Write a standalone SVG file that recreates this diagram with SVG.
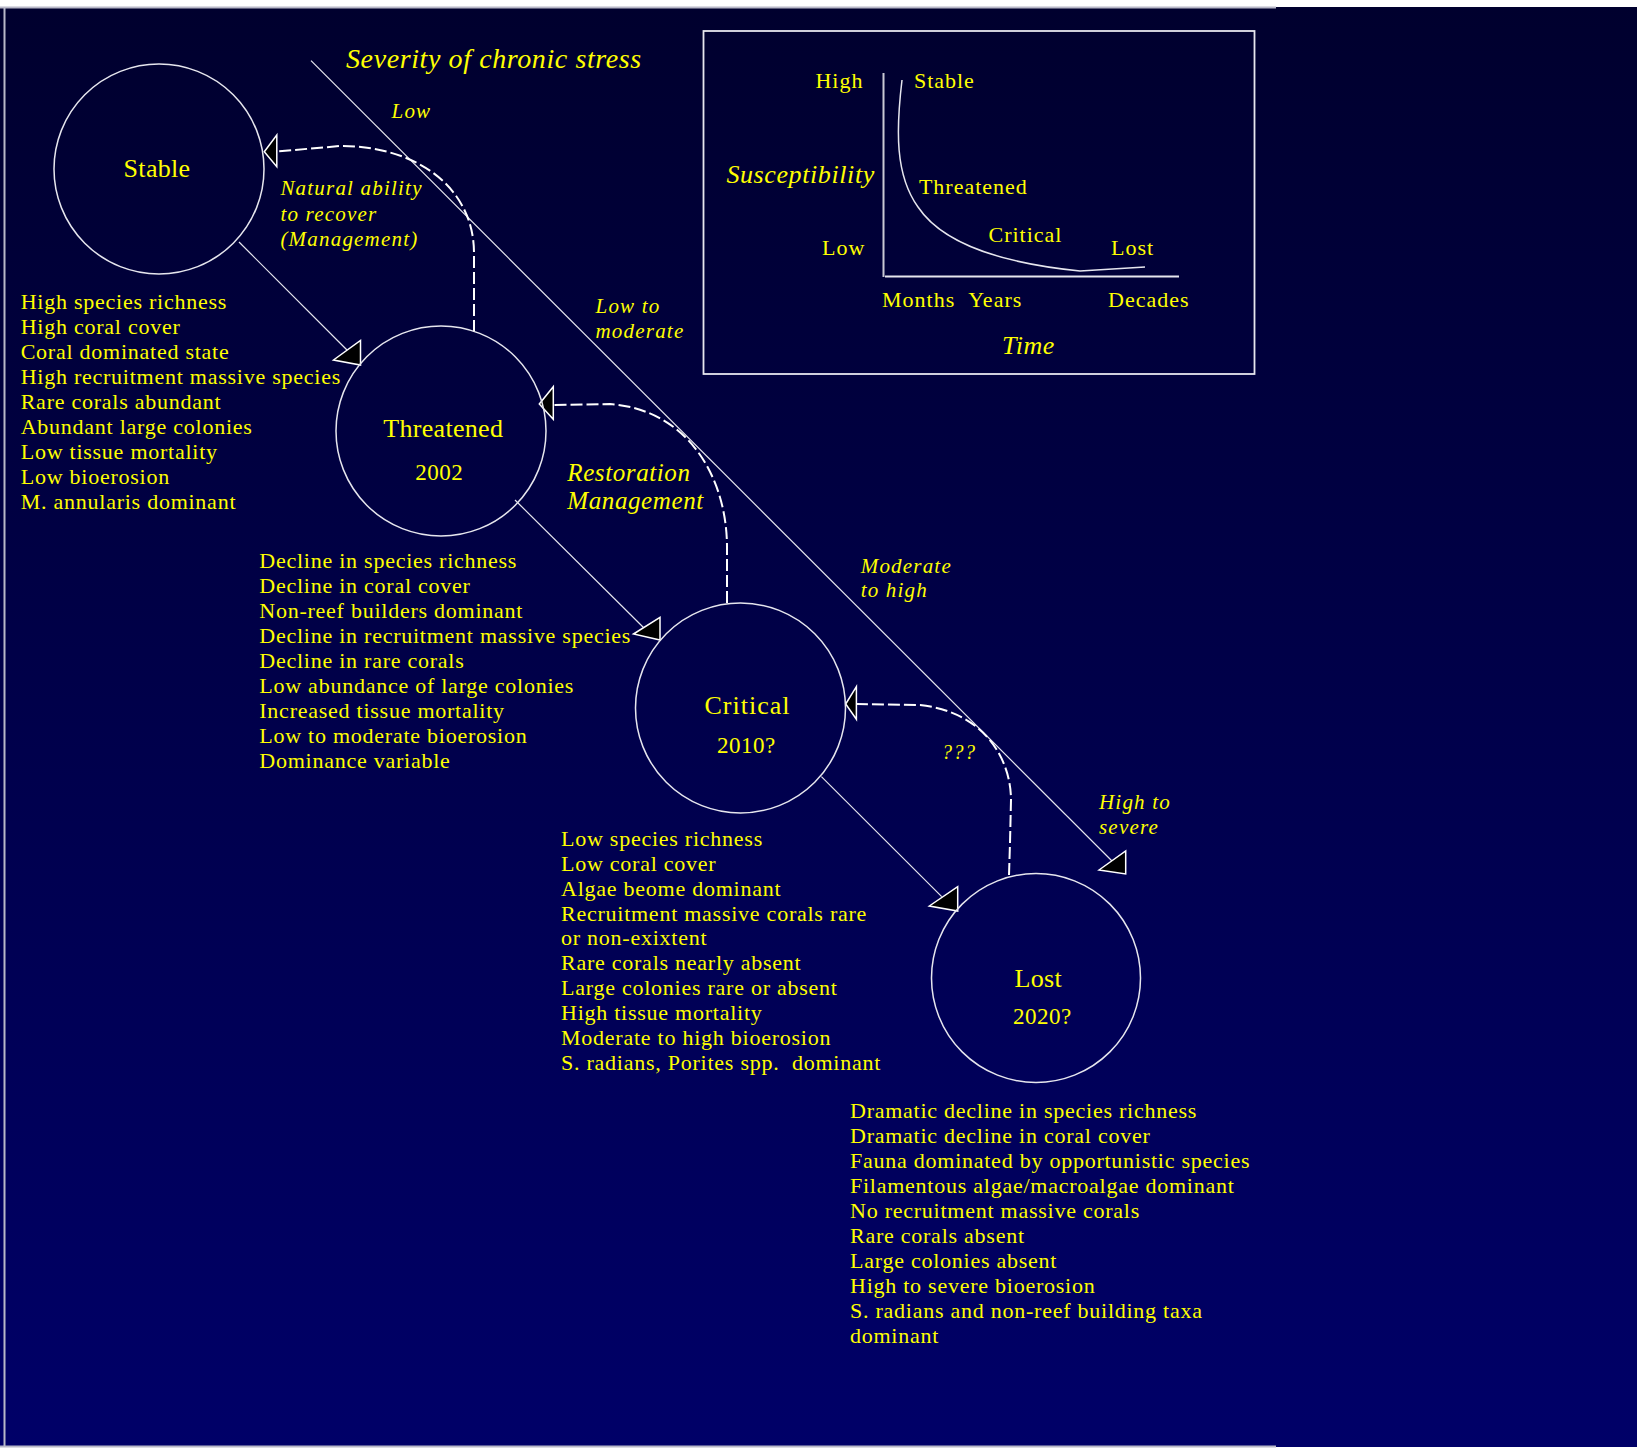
<svg xmlns="http://www.w3.org/2000/svg" width="1637" height="1453" viewBox="0 0 1637 1453">
<defs>
<linearGradient id="bg" x1="0" y1="0" x2="0" y2="1">
<stop offset="0" stop-color="#00002e"/>
<stop offset="1" stop-color="#000068"/>
</linearGradient>
<style>
.t{font-family:"Liberation Serif","Times New Roman",serif;fill:#ffff00;font-size:22px;letter-spacing:0.75px}
.i{font-family:"Liberation Serif","Times New Roman",serif;fill:#ffff00;font-style:italic;font-size:21px;letter-spacing:1.2px}
.n{font-family:"Liberation Serif","Times New Roman",serif;fill:#ffff00;font-size:26px;text-anchor:middle;letter-spacing:0.3px}
.y{font-family:"Liberation Serif","Times New Roman",serif;fill:#ffff00;font-size:23px;text-anchor:middle;letter-spacing:0.5px}
.c{fill:none;stroke:#e6e6ee;stroke-width:1.5}
.s{fill:none;stroke:#e6e6ee;stroke-width:1.2}
.d{fill:none;stroke:#ffffff;stroke-width:2;stroke-dasharray:12 4}
.a{fill:#000000;stroke:#ffffff;stroke-width:1.5;stroke-linejoin:miter}
.f{fill:none;stroke:#b8b8c8;stroke-width:2}
</style>
</defs>
<rect x="0" y="0" width="1637" height="1453" fill="#ffffff"/>
<rect x="0" y="7" width="1637" height="1440" fill="url(#bg)"/>
<path class="f" d="M0,7.5 H1276 M4.5,7 V1447 M0,1446.5 H1276"/>

<g id="connectors">
<line class="s" x1="311" y1="60.7" x2="1112" y2="861"/>
<polygon class="a" points="1099,870 1125.7,851 1125.7,874"/>
<line class="s" x1="239" y1="242" x2="347" y2="350"/>
<polygon class="a" points="333.5,360 360.5,340.5 360.5,365"/>
<line class="s" x1="515" y1="500" x2="645" y2="629"/>
<polygon class="a" points="633.5,634 660,617.3 660,640"/>
<line class="s" x1="821.4" y1="776.7" x2="941.7" y2="896.7"/>
<polygon class="a" points="929.3,906 957.7,886.7 957.7,911"/>
<path class="d" d="M474,332 L474,253 C474,190 420,146 340,146 L277,151.5"/>
<polygon class="a" points="264.3,151.7 276.8,135 276.8,166.7"/>
<path class="d" d="M727,603 L727,547 C727,480 690,410 610,404 L553,405"/>
<polygon class="a" points="539.3,404 553.3,386.7 553.3,419.3"/>
<path class="d" d="M1009,875 L1010,843 L1011,800 C1011,760 985,712 920,705 L857,704"/>
<polygon class="a" points="845.7,704 856.4,686.7 856.4,719.3"/>
</g>

<g id="connector-labels">
<text class="i" x="346" y="68.3" style="font-size:28px;letter-spacing:0.6px">Severity of chronic stress</text>
<text class="i" x="391.5" y="118.3">Low</text>
<text class="i" x="280.4" y="195">Natural ability</text>
<text class="i" x="280.4" y="220.7">to recover</text>
<text class="i" x="280.4" y="246">(Management)</text>
<text class="i" x="595.5" y="313.3">Low to</text>
<text class="i" x="595.5" y="338.3">moderate</text>
<text class="i" x="567.3" y="481" style="font-size:25px;letter-spacing:0.6px">Restoration</text>
<text class="i" x="567.3" y="509.3" style="font-size:25px;letter-spacing:0.6px">Management</text>
<text class="i" x="860.7" y="572.7">Moderate</text>
<text class="i" x="860.7" y="597.3">to high</text>
<text class="i" x="942" y="759.3" style="font-size:20px;letter-spacing:1.5px">???</text>
<text class="i" x="1099" y="809.3">High to</text>
<text class="i" x="1099" y="834">severe</text>
</g>

<g id="stable">
<circle class="c" cx="159" cy="169" r="105"/>
<text class="n" x="157" y="177">Stable</text>
</g>
<g id="stable-traits">
<text class="t" x="20.7" y="309.3">High species richness</text>
<text class="t" x="20.7" y="334.3">High coral cover</text>
<text class="t" x="20.7" y="359.3">Coral dominated state</text>
<text class="t" x="20.7" y="384.3">High recruitment massive species</text>
<text class="t" x="20.7" y="409.3">Rare corals abundant</text>
<text class="t" x="20.7" y="434.3">Abundant large colonies</text>
<text class="t" x="20.7" y="459.3">Low tissue mortality</text>
<text class="t" x="20.7" y="484.3">Low bioerosion</text>
<text class="t" x="20.7" y="509.3">M. annularis dominant</text>
</g>

<g id="threatened">
<circle class="c" cx="441" cy="431" r="105"/>
<text class="n" x="443.3" y="436.7">Threatened</text>
<text class="y" x="439.3" y="480">2002</text>
</g>
<g id="threatened-traits">
<text class="t" x="259.3" y="568.3">Decline in species richness</text>
<text class="t" x="259.3" y="593.3">Decline in coral cover</text>
<text class="t" x="259.3" y="618.3">Non-reef builders dominant</text>
<text class="t" x="259.3" y="643.3">Decline in recruitment massive species</text>
<text class="t" x="259.3" y="668.3">Decline in rare corals</text>
<text class="t" x="259.3" y="693.3">Low abundance of large colonies</text>
<text class="t" x="259.3" y="718.3">Increased tissue mortality</text>
<text class="t" x="259.3" y="743.3">Low to moderate bioerosion</text>
<text class="t" x="259.3" y="768.3">Dominance variable</text>
</g>

<g id="critical">
<circle class="c" cx="740.5" cy="708" r="105"/>
<text class="n" x="747.5" y="714" style="letter-spacing:1px">Critical</text>
<text class="y" x="746.4" y="753.3">2010?</text>
</g>
<g id="critical-traits">
<text class="t" x="561" y="846">Low species richness</text>
<text class="t" x="561" y="870.8">Low coral cover</text>
<text class="t" x="561" y="895.7">Algae beome dominant</text>
<text class="t" x="561" y="920.5">Recruitment massive corals rare</text>
<text class="t" x="561" y="945.4">or non-exixtent</text>
<text class="t" x="561" y="970.2">Rare corals nearly absent</text>
<text class="t" x="561" y="995.1">Large colonies rare or absent</text>
<text class="t" x="561" y="1020">High tissue mortality</text>
<text class="t" x="561" y="1044.8">Moderate to high bioerosion</text>
<text class="t" x="561" y="1069.6" xml:space="preserve">S. radians, Porites spp.  dominant</text>
</g>

<g id="lost">
<circle class="c" cx="1036" cy="978" r="104.5"/>
<text class="n" x="1038.3" y="987.3">Lost</text>
<text class="y" x="1042.3" y="1024.3">2020?</text>
</g>
<g id="lost-traits">
<text class="t" x="850" y="1118.3">Dramatic decline in species richness</text>
<text class="t" x="850" y="1143.3">Dramatic decline in coral cover</text>
<text class="t" x="850" y="1168.3">Fauna dominated by opportunistic species</text>
<text class="t" x="850" y="1193.3">Filamentous algae/macroalgae dominant</text>
<text class="t" x="850" y="1218.3">No recruitment massive corals</text>
<text class="t" x="850" y="1243.3">Rare corals absent</text>
<text class="t" x="850" y="1268.3">Large colonies absent</text>
<text class="t" x="850" y="1293.3">High to severe bioerosion</text>
<text class="t" x="850" y="1318.3">S. radians and non-reef building taxa</text>
<text class="t" x="850" y="1343.3">dominant</text>
</g>

<g id="inset">
<rect x="703.5" y="31" width="551" height="343" fill="none" stroke="#e6e6ee" stroke-width="1.8"/>
<line x1="883.5" y1="73" x2="883.5" y2="277" stroke="#c8c8d4" stroke-width="2"/>
<line x1="885" y1="276.5" x2="1179" y2="276.5" stroke="#e6e6ee" stroke-width="2"/>
<path class="c" d="M902,80 C896,130 895,175 918,207 C940,240 990,262 1080,271 L1145,267"/>
<text class="t" x="863.4" y="88.3" text-anchor="end" style="letter-spacing:1px">High</text>
<text class="t" x="913.9" y="88.3" style="letter-spacing:1px">Stable</text>
<text class="i" x="726.4" y="183.3" style="font-size:26px;letter-spacing:0.6px">Susceptibility</text>
<text class="t" x="918.9" y="194.3" style="letter-spacing:1px">Threatened</text>
<text class="t" x="988.5" y="242.3" style="letter-spacing:1px">Critical</text>
<text class="t" x="865.3" y="255" text-anchor="end" style="letter-spacing:1px">Low</text>
<text class="t" x="1111" y="255" style="letter-spacing:1px">Lost</text>
<text class="t" x="882" y="306.7" style="letter-spacing:1px">Months</text>
<text class="t" x="968.2" y="306.7" style="letter-spacing:1px">Years</text>
<text class="t" x="1108" y="306.7" style="letter-spacing:1px">Decades</text>
<text class="i" x="1002" y="354.3" style="font-size:26px;letter-spacing:0.6px">Time</text>
</g>
</svg>
